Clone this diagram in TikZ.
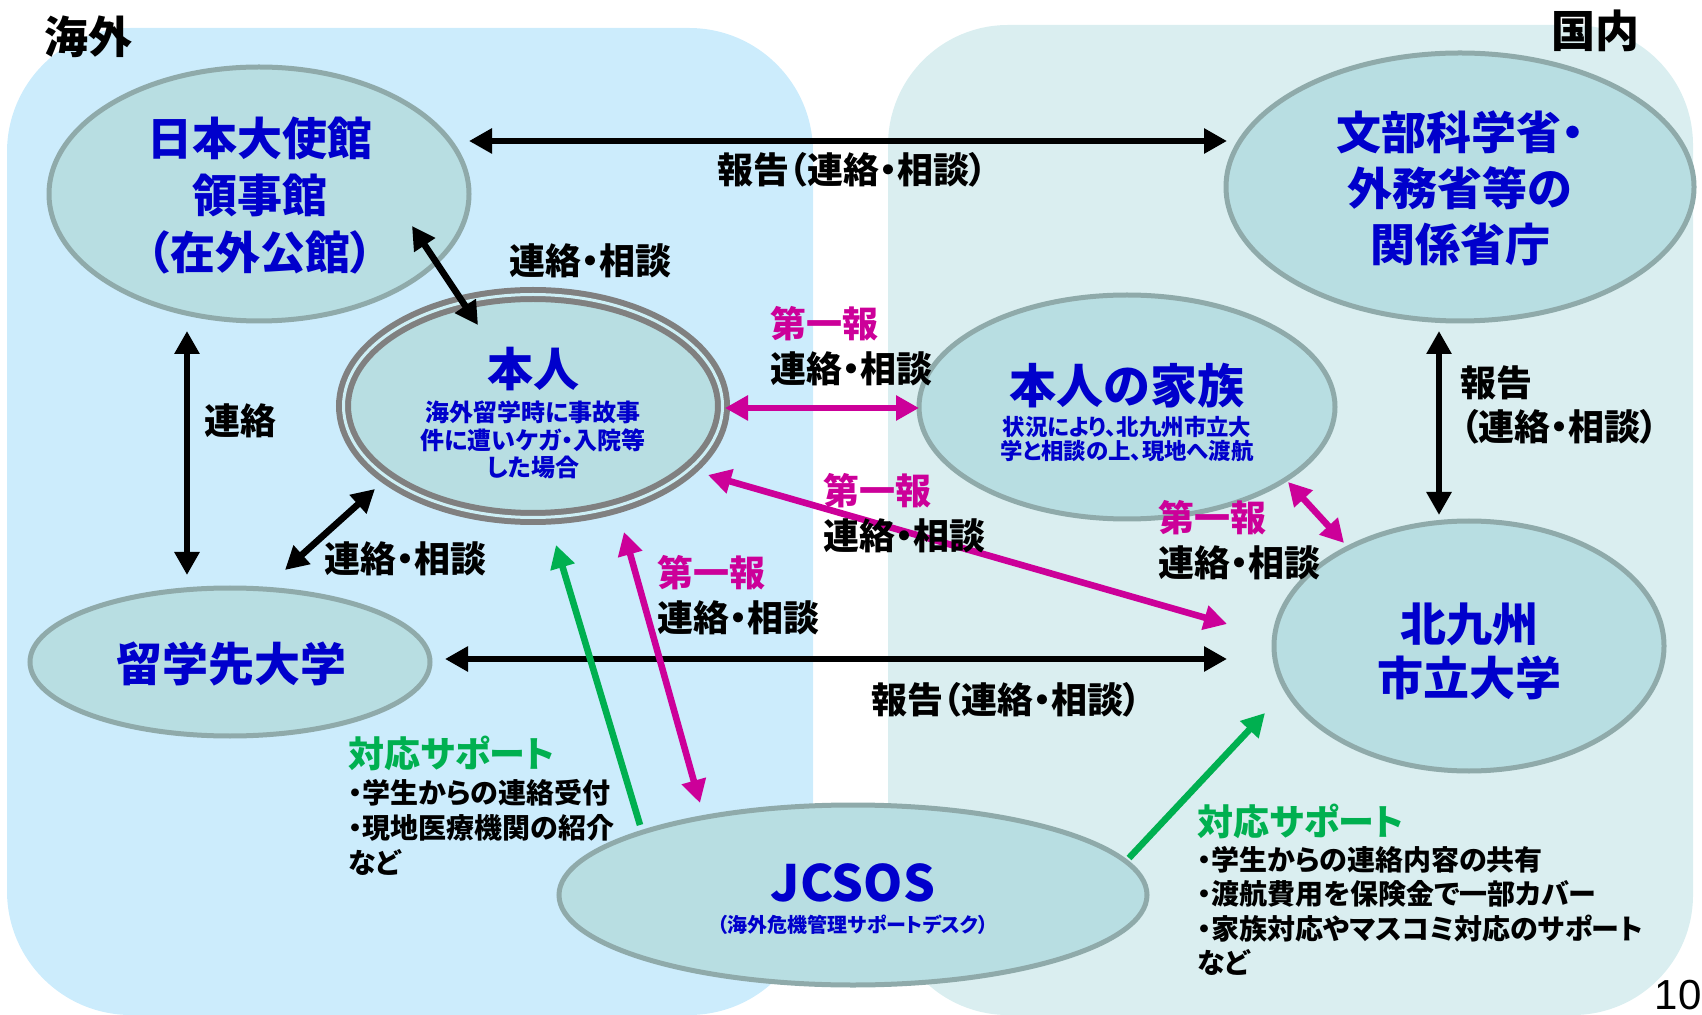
\documentclass[tikz,border=0pt]{standalone}
\usepackage{fontspec}
\setmainfont{Noto Sans CJK JP}[RawFeature=+palt]
\newfontfamily\pagefont{Liberation Sans}
\usetikzlibrary{shapes.geometric,arrows.meta}
\definecolor{seablue}{HTML}{CCECFC}
\definecolor{homeblue}{HTML}{DAEEF0}
\definecolor{cell}{HTML}{B8DEE2}
\definecolor{rim}{HTML}{8FAAAA}
\definecolor{ring}{HTML}{808080}
\definecolor{ringgap}{HTML}{CDEFF5}
\definecolor{titleblue}{HTML}{0000CC}
\definecolor{pinkred}{HTML}{CC0099}
\definecolor{support}{HTML}{00B050}
\newcommand\bsz[2]{\bfseries\fontsize{#1}{#2}\selectfont}
\tikzset{
  place/.style={ellipse,draw=rim,line width=2.5pt,fill=cell,inner sep=0pt},
  title/.style={text=titleblue,align=center,inner sep=0pt},
  tag/.style={font=\bsz{18}{22.5},align=left,inner sep=0pt},
  link/.style={line width=3.3pt,{Triangle[length=11.5pt,width=12pt]}-{Triangle[length=11.5pt,width=12pt]}},
  pink/.style={link,color=pinkred},
  help/.style={line width=3.3pt,color=support,-{Triangle[length=11.5pt,width=12pt]}}
}
\begin{document}
\begin{tikzpicture}[x=0.5pt,y=-0.5pt]
  \useasboundingbox (0,0) rectangle (1702,1015);
  \fill[seablue,rounded corners=62pt] (7,28) rectangle (813,1015);
  \fill[homeblue,rounded corners=60pt] (888,25) rectangle (1693,1015);

  \node[place,minimum width=210pt,minimum height=127pt] (embassy) at (259,194) {};
  \node[place,minimum width=234pt,minimum height=134pt] (ministry) at (1460,187) {};
  \node[place,draw=ring,double=ringgap,line width=3pt,double distance=1.5pt,
    minimum width=189.5pt,minimum height=111.5pt] (self) at (533,406) {};
  \node[place,minimum width=208pt,minimum height=112pt] (family) at (1127,407) {};
  \node[place,minimum width=200pt,minimum height=74pt] (host) at (230,662) {};
  \node[place,minimum width=195pt,minimum height=125pt] (kitakyu) at (1469,646) {};
  \node[place,minimum width=294pt,minimum height=90pt] (jcsos) at (853,895) {};

  \node[title,font=\bsz{22.5}{28.5}] (embassyname) at (260,196) {日本大使館\\領事館\\（在外公館）};
  \node[title,font=\bsz{22.5}{28}] (ministryname) at (1460,188) {文部科学省・\\外務省等の\\関係省庁};
  \node[title,font=\bsz{23}{28}] (selfname) at (533,369) {本人};
  \node[title,font=\bsz{12}{13.75}] (selfnote) at (533,440) {海外留学時に事故事\\件に遭いケガ・入院等\\した場合};
  \node[title,font=\bsz{23.5}{28}] (familyname) at (1127,386) {本人の家族};
  \node[title,font=\bsz{11.2}{12.2}] (familynote) at (1127,439) {状況により、北九州市立大\\学と相談の上、現地へ渡航};
  \node[title,font=\bsz{23}{28}] (hostname) at (231,664) {留学先大学};
  \node[title,font=\bsz{23}{27}] (kitakyuname) at (1469,651) {北九州\\市立大学};
  \node[title,font=\bsz{25}{28}] (jcsosname) at (853,883) {JCSOS};
  \node[title,font=\bsz{10}{12}] (jcsosnote) at (853,925) {（海外危機管理サポートデスク）};

  \draw[link] ([shift={(210,-53)}]embassy.center) -- ([shift={(-233,-46)}]ministry.center);
  \draw[link] ([shift={(153,32)}]embassy.center) -- ([shift={(-55,-81)}]self.center);
  \draw[link] ([shift={(-72,137)}]embassy.center) -- ([shift={(-43,-87)}]host.center);
  \draw[link] ([shift={(-158,83)}]self.center) -- ([shift={(55,-92)}]host.center);
  \draw[link] ([shift={(215,-3)}]host.center) -- ([shift={(-242,13)}]kitakyu.center);
  \draw[link] ([shift={(-21,144)}]ministry.center) -- ([shift={(-30,-131)}]kitakyu.center);
  \draw[pink] ([shift={(192,2)}]self.center) -- ([shift={(-208,1)}]family.center);
  \draw[pink] ([shift={(175,69)}]self.center) -- ([shift={(-242,-22)}]kitakyu.center);
  \draw[pink] ([shift={(161,75)}]family.center) -- ([shift={(-125,-103)}]kitakyu.center);
  \draw[pink] ([shift={(91,126)}]self.center) -- ([shift={(-153,-92)}]jcsos.center);
  \draw[help] ([shift={(-213,-70)}]jcsos.center) -- ([shift={(23,139)}]self.center);
  \draw[help] ([shift={(276,-37)}]jcsos.center) -- ([shift={(-204,67)}]kitakyu.center);

  \node[tag] (report1) at (852,170) {報告（連絡・相談）};
  \node[tag] (talk1) at (590,261) {連絡・相談};
  \node[tag] (contact) at (240,421) {連絡};
  \node[tag] (talk2) at (405,559) {連絡・相談};
  \node[tag] (report2) at (1006,700) {報告（連絡・相談）};
  \node[tag,font=\bsz{18}{22},anchor=west] (report3) at (1460,405) {報告\\（連絡・相談）};
  \node[tag,anchor=west] (first1) at (770,346) {\textcolor{pinkred}{第一報}\\連絡・相談};
  \node[tag,anchor=west] (first2) at (823,513) {\textcolor{pinkred}{第一報}\\連絡・相談};
  \node[tag,anchor=west] (first3) at (1158,540) {\textcolor{pinkred}{第一報}\\連絡・相談};
  \node[tag,anchor=west] (first4) at (657,595) {\textcolor{pinkred}{第一報}\\連絡・相談};

  \node[tag,text=support,anchor=west] (helphead1) at (348,753) {対応サポート};
  \node[tag,font=\bsz{14}{17.5},anchor=west] (helplist1) at (348,827) {・学生からの連絡受付\\・現地医療機関の紹介\\など};
  \node[tag,text=support,anchor=west] (helphead2) at (1197,821) {対応サポート};
  \node[tag,font=\bsz{14}{17.2},anchor=west] (helplist2) at (1197,911) {・学生からの連絡内容の共有\\・渡航費用を保険金で一部カバー\\・家族対応やマスコミ対応のサポート\\など};

  \node[font=\bsz{22}{26},inner sep=0pt] (abroad) at (88,37) {海外};
  \node[font=\bsz{22}{26},inner sep=0pt] (home) at (1595,31) {国内};
  \node[font=\pagefont\fontsize{21}{24}\selectfont,inner sep=0pt] (page) at (1678,995) {10};
\end{tikzpicture}
\end{document}
